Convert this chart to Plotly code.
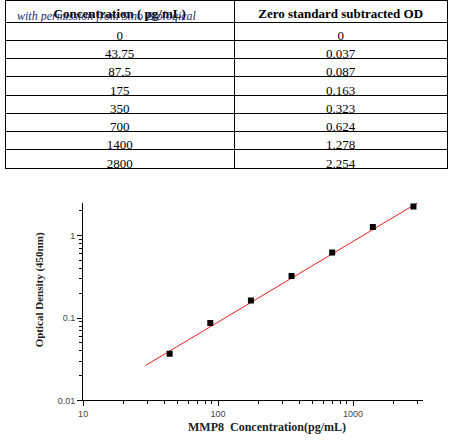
import plotly.graph_objects as go

# table contents
table_header = ['Concentration ( pg/mL)', 'Zero standard subtracted OD']
table_conc = ['0', '43.75', '87.5', '175', '350', '700', '1400', '2800']
table_od = ['0', '0.037', '0.087', '0.163', '0.323', '0.624', '1.278', '2.254']

# standard curve points (zero standard left out, log axes)
concentration = [43.75, 87.5, 175, 350, 700, 1400, 2800]
optical_density = [0.037, 0.087, 0.163, 0.323, 0.624, 1.278, 2.254]

# fitted line end points
fit_conc = [29, 3000]
fit_od = [0.0266, 2.5]

major_x = [10, 100, 1000]
minor_x = [20, 30, 40, 50, 60, 70, 80, 90, 200, 300, 400, 500, 600, 700, 800, 900, 2000, 3000]
major_y = [0.01, 0.1, 1]
minor_y = [0.02, 0.03, 0.04, 0.05, 0.06, 0.07, 0.08, 0.09,
           0.2, 0.3, 0.4, 0.5, 0.6, 0.7, 0.8, 0.9, 2]

W, H = 450, 448


def px_x(v):
    return v / W


def px_y(v):
    return 1 - v / H


# no markup and no plain spaces, otherwise plotly grows the header row
header_text = [t.replace(' ', '\u00a0') for t in table_header]

fig = go.Figure()

fig.add_trace(
    go.Table(
        domain=dict(x=[0, 447 / W], y=[px_y(172), 1]),
        columnwidth=[232, 215],
        header=dict(
            values=header_text,
            height=22,
            fill_color='white',
            line=dict(color='black', width=1),
            align='center',
            font=dict(family='Liberation Serif', size=13, color='black', weight='bold')
        ),
        cells=dict(
            values=[table_conc, table_od],
            height=18.25,
            fill_color='white',
            line=dict(color='black', width=1),
            align='center',
            font=dict(family='Liberation Serif', size=13, color='black')
        )
    )
)

fig.add_trace(
    go.Scatter(
        x=fit_conc, y=fit_od, mode='lines',
        line=dict(color='#ee1c1c', width=1),
        showlegend=False, hoverinfo='skip'
    )
)

fig.add_trace(
    go.Scatter(
        x=concentration, y=optical_density, mode='markers',
        marker=dict(symbol='square', size=6, color='black'),
        showlegend=False
    )
)

axis_font = dict(family='Liberation Sans', size=9, color='#444')

fig.update_layout(
    width=W, height=H,
    margin=dict(l=0, r=0, t=0, b=0),
    plot_bgcolor='white',
    paper_bgcolor='white',
    showlegend=False,
    xaxis=dict(
        type='log', range=[1, 3.52], domain=[px_x(79), px_x(423)],
        showgrid=False, zeroline=False,
        showline=True, linecolor='black', linewidth=1,
        tickmode='array', tickvals=major_x, ticktext=['10', '100', '1000'],
        ticks='outside', ticklen=5, tickcolor='black', tickfont=axis_font,
        minor=dict(tickmode='array', tickvals=minor_x, ticks='outside', ticklen=3,
                   tickcolor='black', showgrid=False)
    ),
    yaxis=dict(
        type='log', range=[-2, 0.4], domain=[px_y(405), px_y(205)],
        showgrid=False, zeroline=False,
        showline=True, linecolor='black', linewidth=1,
        tickmode='array', tickvals=major_y, ticktext=['0.01', '0.1', '1'],
        ticks='outside', ticklen=5, tickcolor='black', tickfont=axis_font,
        minor=dict(tickmode='array', tickvals=minor_y, ticks='outside', ticklen=3,
                   tickcolor='black', showgrid=False)
    ),
    annotations=[
        dict(text='<i>with permission from Sino Biological</i>',
             xref='paper', yref='paper', x=px_x(10), y=px_y(16),
             xanchor='left', yanchor='middle', showarrow=False,
             font=dict(family='Liberation Serif', size=12, color='#1c2a6e')),
        dict(text='<b>MMP8\u00a0\u00a0Concentration(pg/mL)</b>',
             xref='paper', yref='paper', x=px_x(265), y=px_y(432),
             xanchor='center', yanchor='middle', showarrow=False,
             font=dict(family='Liberation Serif', size=12, color='#222')),
        dict(text='<b>Optical Density (450nm)</b>',
             xref='paper', yref='paper', x=px_x(35), y=px_y(293),
             xanchor='center', yanchor='middle', showarrow=False, textangle=-90,
             font=dict(family='Liberation Serif', size=11, color='#222'))
    ]
)

# the page body has a default 8px margin, drop it so the figure sits at 0,0
fig.write_html('out.html', config={'displayModeBar': False},
               post_script="document.body.style.margin = '0px';")
